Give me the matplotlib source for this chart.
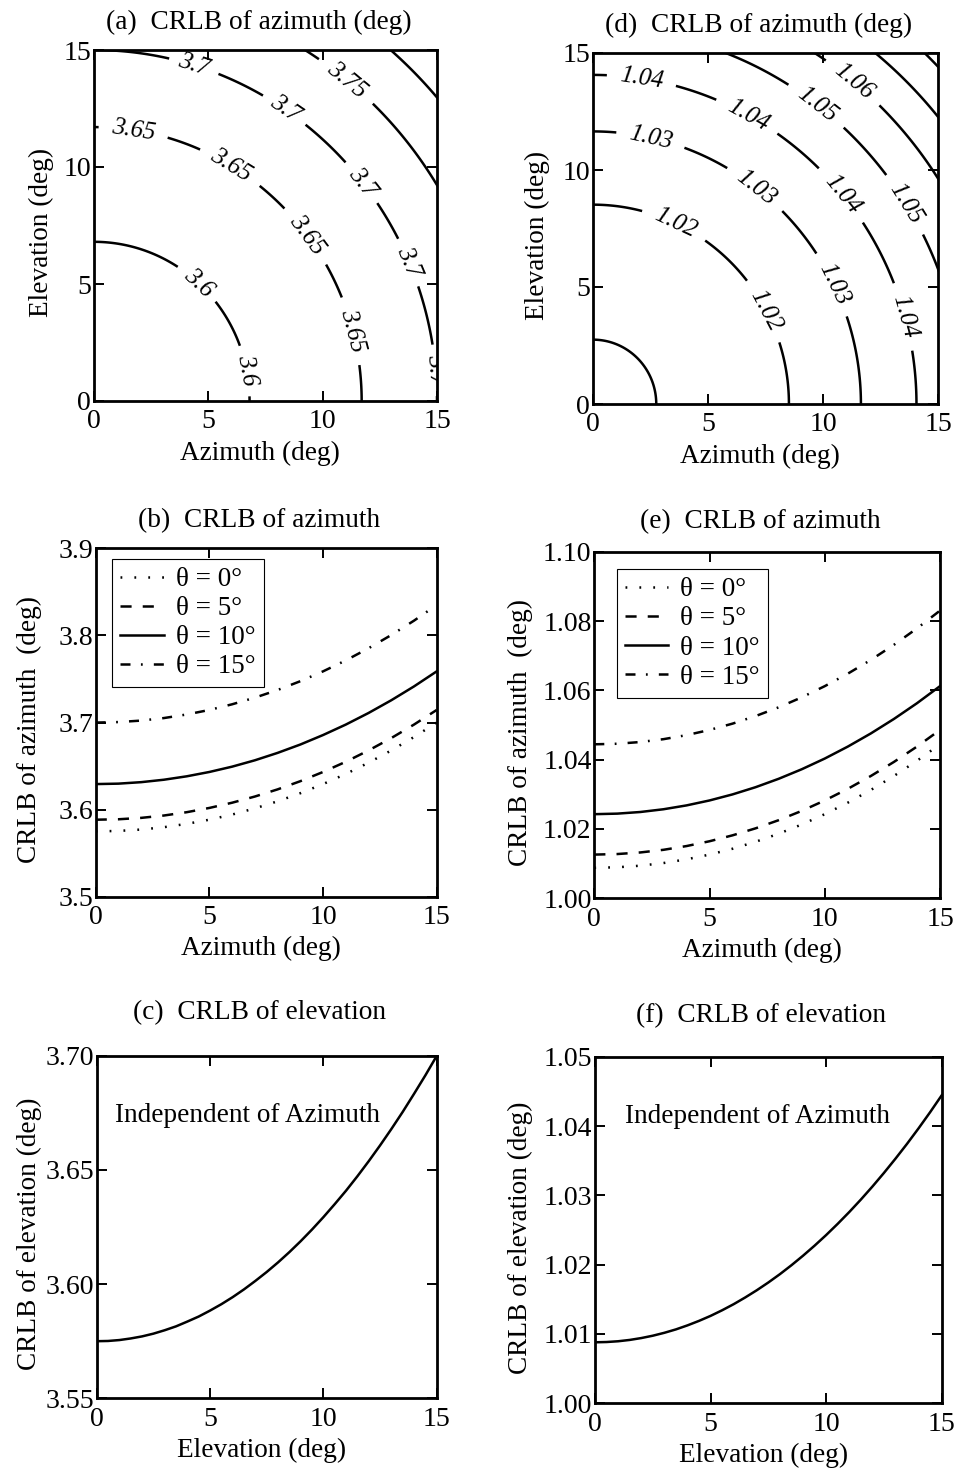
import numpy as np
import matplotlib
matplotlib.use("Agg")
import matplotlib.pyplot as plt

plt.rcParams['font.family'] = ['Liberation Serif', 'DejaVu Serif']
plt.rcParams['lines.scale_dashes'] = False

# CRLB of azimuth (deg) versus off-boresight angle sqrt(az^2 + el^2) (deg)
OFF_AXIS = list(range(23))
CRLB_AZ_A = [3.5750, 3.5755, 3.5771, 3.5798, 3.5836, 3.5884, 3.5943, 3.6014,
             3.6095, 3.6188, 3.6293, 3.6409, 3.6538, 3.6679, 3.6833, 3.7000,
             3.7179, 3.7373, 3.7581, 3.7803, 3.8040, 3.8293, 3.8562]
CRLB_AZ_D = [1.0088, 1.0090, 1.0094, 1.0102, 1.0112, 1.0126, 1.0143, 1.0163,
             1.0186, 1.0213, 1.0243, 1.0276, 1.0313, 1.0353, 1.0397, 1.0444,
             1.0496, 1.0551, 1.0610, 1.0674, 1.0742, 1.0814, 1.0891]
LEVELS_A = [3.6, 3.65, 3.7, 3.75, 3.8]
LEVELS_D = [1.01, 1.02, 1.03, 1.04, 1.05, 1.06, 1.07, 1.08]

# azimuth cuts at fixed elevation theta
AZ = list(range(16))
THETAS = [0, 5, 10, 15]
CRLB_B = [
    [3.5750, 3.5755, 3.5771, 3.5798, 3.5836, 3.5884, 3.5943, 3.6014,
     3.6095, 3.6188, 3.6293, 3.6409, 3.6538, 3.6679, 3.6833, 3.6999],
    [3.5884, 3.5889, 3.5905, 3.5932, 3.5970, 3.6019, 3.6079, 3.6150,
     3.6232, 3.6326, 3.6432, 3.6549, 3.6679, 3.6821, 3.6976, 3.7144],
    [3.6293, 3.6298, 3.6315, 3.6343, 3.6382, 3.6432, 3.6493, 3.6566,
     3.6651, 3.6747, 3.6856, 3.6976, 3.7109, 3.7255, 3.7414, 3.7587],
    [3.6999, 3.7005, 3.7022, 3.7051, 3.7092, 3.7144, 3.7209, 3.7285,
     3.7373, 3.7474, 3.7587, 3.7713, 3.7852, 3.8004, 3.8169, 3.8349],
]
CRLB_E = [
    [1.00880, 1.00895, 1.00941, 1.01017, 1.01124, 1.01261, 1.01430, 1.01631,
     1.01863, 1.02129, 1.02427, 1.02759, 1.03126, 1.03529, 1.03967, 1.04443],
    [1.01261, 1.01277, 1.01323, 1.01399, 1.01507, 1.01646, 1.01817, 1.02019,
     1.02254, 1.02522, 1.02823, 1.03158, 1.03529, 1.03934, 1.04377, 1.04857],
    [1.02427, 1.02443, 1.02490, 1.02569, 1.02680, 1.02823, 1.02998, 1.03206,
     1.03448, 1.03723, 1.04032, 1.04377, 1.04757, 1.05174, 1.05628, 1.06121],
    [1.04443, 1.04459, 1.04509, 1.04591, 1.04707, 1.04857, 1.05040, 1.05258,
     1.05510, 1.05798, 1.06121, 1.06481, 1.06878, 1.07313, 1.07787, 1.08300],
]

# CRLB of elevation versus elevation
EL = [0, 0.5, 1, 1.5, 2, 2.5, 3, 3.5, 4, 4.5, 5, 5.5, 6, 6.5, 7, 7.5,
      8, 8.5, 9, 9.5, 10, 10.5, 11, 11.5, 12, 12.5, 13, 13.5, 14, 14.5, 15]
CRLB_EL_C = [3.5750, 3.5751, 3.5755, 3.5762, 3.5771, 3.5783, 3.5798, 3.5815,
             3.5836, 3.5858, 3.5884, 3.5912, 3.5943, 3.5977, 3.6014, 3.6053,
             3.6095, 3.6140, 3.6188, 3.6239, 3.6293, 3.6350, 3.6409, 3.6472,
             3.6538, 3.6607, 3.6679, 3.6754, 3.6833, 3.6914, 3.6999]
CRLB_EL_F = [1.00880, 1.00884, 1.00895, 1.00914, 1.00941, 1.00975, 1.01017,
             1.01066, 1.01124, 1.01189, 1.01261, 1.01342, 1.01430, 1.01527,
             1.01631, 1.01743, 1.01863, 1.01992, 1.02129, 1.02274, 1.02427,
             1.02589, 1.02759, 1.02938, 1.03126, 1.03323, 1.03529, 1.03743,
             1.03967, 1.04200, 1.04443]

# where the inline contour labels sit (az, el)
LABEL_POS_A = [(4.5, 5.0), (6.7, 1.3),
               (1.7, 11.4), (5.9, 9.9), (9.2, 7.0), (11.3, 3.0),
               (4.3, 14.1), (8.3, 12.4), (11.4, 9.1), (13.7, 5.9), (14.8, 1.3),
               (10.8, 13.4)]
LABEL_POS_D = [(3.5, 7.6), (7.3, 3.9),
               (2.5, 11.3), (6.9, 9.0), (10.4, 5.1),
               (2.1, 13.8), (6.7, 12.3), (10.7, 8.85), (13.4, 3.7),
               (9.6, 12.6), (13.2, 8.3),
               (11.1, 13.5)]

W, H = 957, 1469
FS = 19.6
LW = 1.8
STYLES = [(0, (1.3, 8.7)), (0, (8, 8)), '-', (0, (7.2, 7.5, 1.3, 8))]

fig = plt.figure(figsize=(W / 100, H / 100), dpi=100)


def make_axes(l, t, r, b):
    ax = fig.add_axes([l / W, 1 - b / H, (r - l) / W, (b - t) / H])
    ax.tick_params(direction='in', length=7, width=1.4, top=True, right=True,
                   labelsize=20)
    ax.tick_params(axis='x', pad=6)
    ax.tick_params(axis='y', pad=2)
    for s in ax.spines.values():
        s.set_linewidth(2)
    return ax


def style(ax, title, xlabel, ylabel, ylab_x, title_pad):
    ax.set_title(title, fontsize=19.7, x=0.48, pad=title_pad)
    ax.set_xlabel(xlabel, fontsize=FS, labelpad=4.5)
    ax.xaxis.label.set_x(0.485)
    ax.set_ylabel(ylabel, fontsize=FS)
    ax.yaxis.set_label_coords(ylab_x, 0.479)


def contour_panel(ax, profile, levels, positions):
    r = np.asarray(OFF_AXIS, dtype=float)
    phi = np.radians(np.linspace(0, 90, 181))
    X = r[:, None] * np.cos(phi)[None, :]
    Y = r[:, None] * np.sin(phi)[None, :]
    Z = np.repeat(np.asarray(profile)[:, None], phi.size, axis=1)
    cs = ax.contour(X, Y, Z, levels=levels, colors='black', linewidths=LW)
    with plt.rc_context({'font.style': 'italic'}):
        ax.clabel(cs, manual=positions, inline=True, inline_spacing=2,
                  fmt=lambda v: f'{v:g}', fontsize=18)
    ax.set_xlim(0, 15)
    ax.set_ylim(0, 15)
    ax.set_xticks([0, 5, 10, 15])
    ax.set_yticks([0, 5, 10, 15])


def curves_panel(ax, values, ylim, yticks, fmt, legend_anchor):
    for th, vals, ls in zip(THETAS, values, STYLES):
        ax.plot(AZ, vals, color='black', lw=LW, linestyle=ls,
                label=f'θ = {th}°')
    ax.set_xlim(0, 15)
    ax.set_ylim(*ylim)
    ax.set_xticks([0, 5, 10, 15])
    ax.set_yticks(yticks)
    ax.set_yticklabels([fmt % v for v in yticks])
    leg = ax.legend(loc='upper left', bbox_to_anchor=legend_anchor,
                    borderaxespad=0, fancybox=False, edgecolor='black',
                    framealpha=1, fontsize=19.5, handlelength=1.6,
                    handletextpad=0.45, labelspacing=0.15, borderpad=0.3)
    leg.get_frame().set_linewidth(0.8)


def elevation_panel(ax, values, ylim, yticks, fmt, note_xy):
    ax.plot(EL, values, color='black', lw=LW)
    ax.set_xlim(0, 15)
    ax.set_ylim(*ylim)
    ax.set_xticks([0, 5, 10, 15])
    ax.set_yticks(yticks)
    ax.set_yticklabels([fmt % v for v in yticks])
    ax.text(note_xy[0], note_xy[1], 'Independent of Azimuth', fontsize=FS,
            transform=ax.transAxes, ha='left', va='baseline')


# (a) / (d) contour maps
ax_a = make_axes(94, 50, 437, 401)
contour_panel(ax_a, CRLB_AZ_A, LEVELS_A, LABEL_POS_A)
style(ax_a, '(a)  CRLB of azimuth (deg)', 'Azimuth (deg)', 'Elevation (deg)',
      -0.118, 15)

ax_d = make_axes(593, 53, 938, 404)
contour_panel(ax_d, CRLB_AZ_D, LEVELS_D, LABEL_POS_D)
style(ax_d, '(d)  CRLB of azimuth (deg)', 'Azimuth (deg)', 'Elevation (deg)',
      -0.125, 15)

# (b) / (e) azimuth cuts
ax_b = make_axes(95.7, 548.3, 436.7, 896.7)
curves_panel(ax_b, CRLB_B, (3.5, 3.9), [3.5, 3.6, 3.7, 3.8, 3.9], '%.1f',
             (16.6 / 341, 1 - 10.7 / 348.4))
style(ax_b, '(b)  CRLB of azimuth', 'Azimuth (deg)', 'CRLB of azimuth  (deg)',
      -0.157, 15.5)

ax_e = make_axes(594.3, 551.7, 940, 898.3)
curves_panel(ax_e, CRLB_E, (1.0, 1.1), [1.00, 1.02, 1.04, 1.06, 1.08, 1.10],
             '%.2f', (22.4 / 345.7, 1 - 17.6 / 346.6))
style(ax_e, '(e)  CRLB of azimuth', 'Azimuth (deg)', 'CRLB of azimuth  (deg)',
      -0.176, 17)

# (c) / (f) elevation
ax_c = make_axes(96.7, 1055.7, 436.7, 1398.3)
elevation_panel(ax_c, CRLB_EL_C, (3.55, 3.70), [3.55, 3.60, 3.65, 3.70],
                '%.2f', (0.054, 0.807))
style(ax_c, '(c)  CRLB of elevation', 'Elevation (deg)',
      'CRLB of elevation (deg)', -0.161, 26)

ax_f = make_axes(595, 1056.7, 941.7, 1403.3)
elevation_panel(ax_f, CRLB_EL_F, (1.00, 1.05),
                [1.00, 1.01, 1.02, 1.03, 1.04, 1.05], '%.2f', (0.087, 0.808))
style(ax_f, '(f)  CRLB of elevation', 'Elevation (deg)',
      'CRLB of elevation (deg)', -0.178, 25)

fig.savefig('out.png', dpi=100)
